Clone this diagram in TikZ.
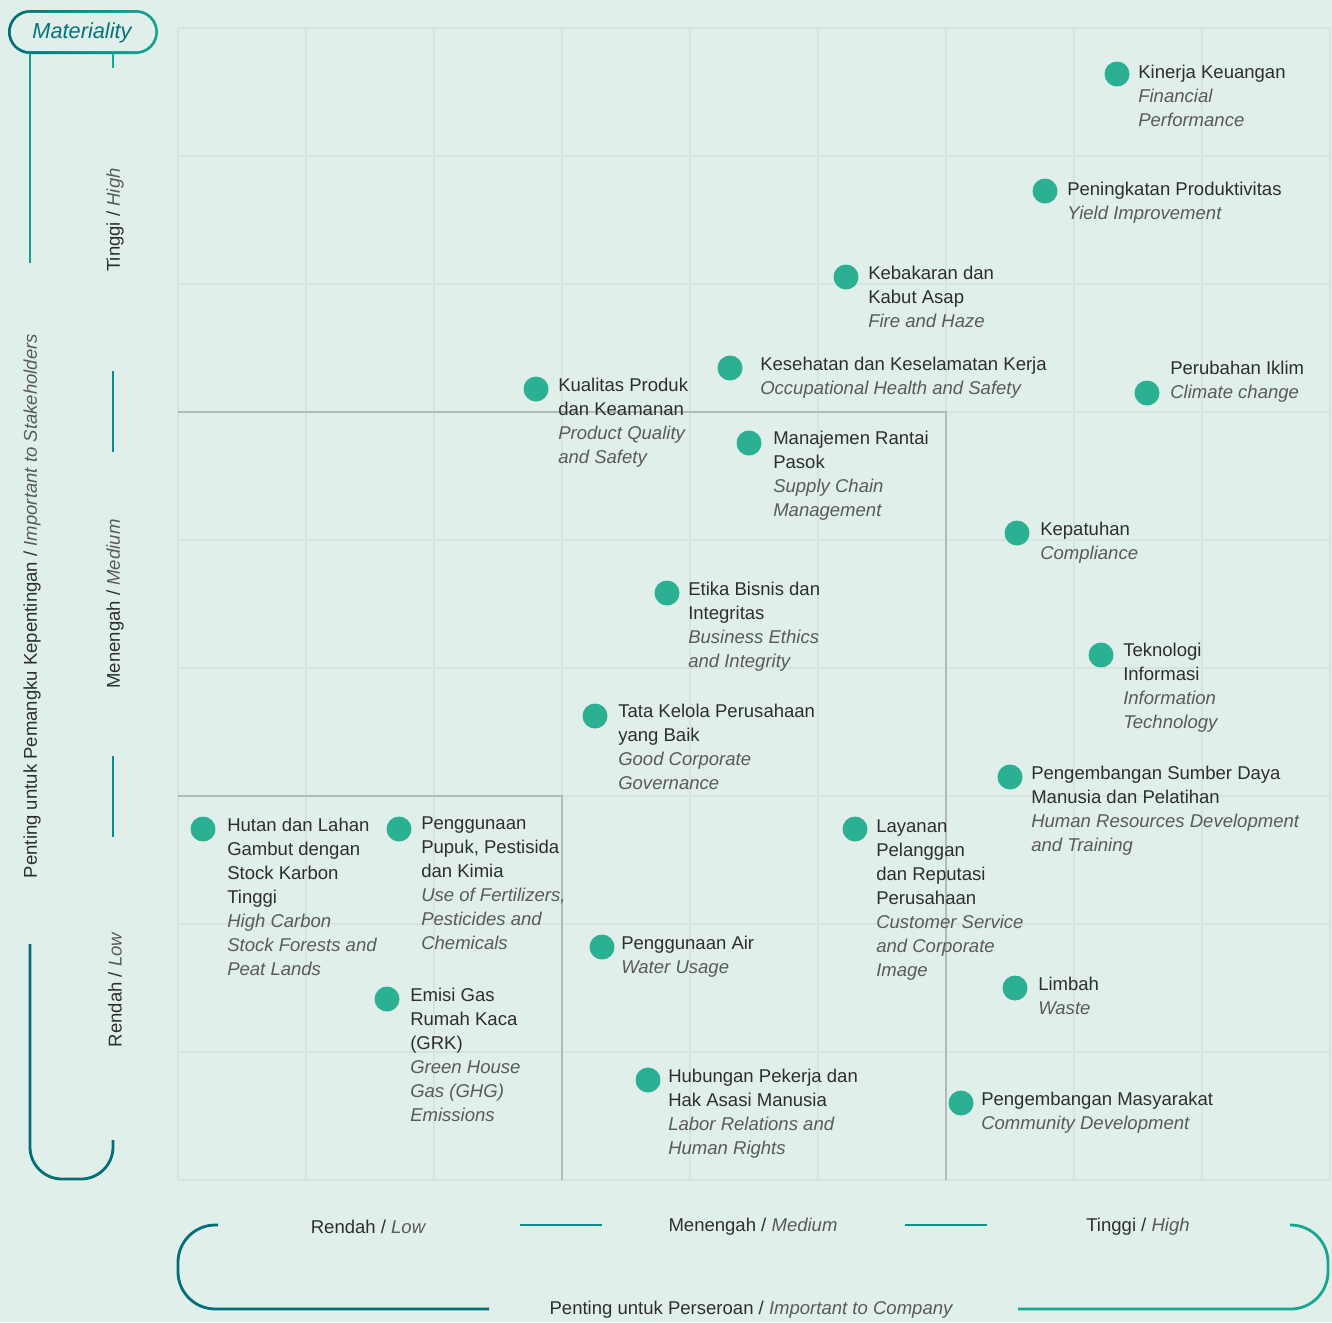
\documentclass[tikz,border=0pt]{standalone}
\usepackage{fontspec}
\setmainfont{Liberation Sans}
\definecolor{bg}{HTML}{E0EFEA}
\definecolor{gridc}{HTML}{D6E3DF}
\definecolor{quadc}{HTML}{B3BAB8}
\definecolor{dotc}{HTML}{2BB093}
\definecolor{txt}{HTML}{2E2E2E}
\definecolor{engc}{HTML}{5A5A5A}
\definecolor{tdark}{HTML}{036E77}
\definecolor{tmid}{HTML}{0B8C8A}
\definecolor{tlight}{HTML}{16A793}
\newcommand\engl[1]{{\itshape\color{engc}#1}}
\begin{document}
\begin{tikzpicture}[x=0.75pt,y=-0.75pt,
  dot/.style={circle,fill=dotc,minimum size=18.75pt,inner sep=0pt},
  lbl/.style={anchor=north west,inner sep=0pt,align=left,text=txt,font=\fontsize{13.9}{18}\selectfont},
  axl/.style={inner sep=0pt,text=txt,font=\fontsize{13.9}{18}\selectfont},
  gridline/.style={draw=gridc,line width=0.8pt},
  quadline/.style={draw=quadc,line width=1.1pt},
  bracket/.style={line width=2.1pt,line cap=butt}
]
\fill[bg] (0,0) rectangle (1332,1322);
\useasboundingbox (0,0) rectangle (1332,1322);
% grid
\foreach \gx in {178,306,434,562,690,818,946,1074,1202,1330}
  \draw[gridline] (\gx,28) -- (\gx,1180);
\foreach \gy in {28,156,284,412,540,668,796,924,1052,1180}
  \draw[gridline] (178,\gy) -- (1330,\gy);
% quadrant lines
\draw[quadline] (178,412) -- (946,412) -- (946,1180);
\draw[quadline] (178,796) -- (562,796) -- (562,1180);
% Materiality box
\shade[left color=tdark,right color=tlight,rounded corners=16.5pt] (8,10) rectangle (158,54);
\fill[bg,rounded corners=14.5pt] (10.8,12.8) rectangle (155.2,51.2);
\node[inner sep=0pt,text=tdark!90!tlight,font=\fontsize{16.3}{18}\selectfont\itshape] (mat) at (82,33) {Materiality};
% left brackets
\draw[bracket,tlight!85!tdark] (30,53) -- (30,263);
\draw[bracket,tlight] (113,53) -- (113,68);
\draw[bracket,tmid] (113,371) -- (113,452);
\draw[bracket,tmid] (113,756) -- (113,837);
\draw[bracket,tdark,rounded corners=24pt] (30,944) -- (30,1179) -- (113,1179) -- (113,1140);
% bottom brackets
\draw[bracket,tdark,rounded corners=28pt] (218,1225) -- (178,1225) -- (178,1309) -- (489,1309);
\draw[bracket,tmid] (520,1225) -- (602,1225);
\draw[bracket,tmid!70!tlight] (905,1225) -- (987,1225);
\draw[bracket,tlight,rounded corners=28pt] (1018,1309) -- (1328,1309) -- (1328,1225) -- (1290,1225);
% axis labels
\node[axl,rotate=90] (yhigh) at (115,220) {Tinggi / \engl{High}};
\node[axl,rotate=90] (ymed) at (115,604) {Menengah / \engl{Medium}};
\node[axl,rotate=90] (ylow) at (115,990) {Rendah / \engl{Low}};
\node[axl,rotate=90] (ytitle) at (32,606) {Penting untuk Pemangku Kepentingan / \engl{Important to Stakeholders}};
\node[axl] (xlow) at (368,1227) {Rendah / \engl{Low}};
\node[axl] (xmed) at (753,1227) {Menengah / \engl{Medium}};
\node[axl] (xhigh) at (1138,1227) {Tinggi / \engl{High}};
\node[axl] (xtitle) at (751,1310) {Penting untuk Perseroan / \engl{Important to Company}};
% items
\node[dot] (d1) at (1117,74) {};
\node[lbl] (t1) at (1138,65) {Kinerja Keuangan\\\engl{Financial}\\\engl{Performance}};
\node[dot] (d2) at (1045,191) {};
\node[lbl] (t2) at (1067,182) {Peningkatan Produktivitas\\\engl{Yield Improvement}};
\node[dot] (d3) at (846,277) {};
\node[lbl] (t3) at (868,266) {Kebakaran dan\\Kabut Asap\\\engl{Fire and Haze}};
\node[dot] (d4) at (730,368) {};
\node[lbl] (t4) at (760,357) {Kesehatan dan Keselamatan Kerja\\\engl{Occupational Health and Safety}};
\node[dot] (d5) at (1147,393) {};
\node[lbl] (t5) at (1170,361) {Perubahan Iklim\\\engl{Climate change}};
\node[dot] (d6) at (536,389) {};
\node[lbl] (t6) at (558,378) {Kualitas Produk\\dan Keamanan\\\engl{Product Quality}\\\engl{and Safety}};
\node[dot] (d7) at (749,443) {};
\node[lbl] (t7) at (773,431) {Manajemen Rantai\\Pasok\\\engl{Supply Chain}\\\engl{Management}};
\node[dot] (d8) at (1017,533) {};
\node[lbl] (t8) at (1040,522) {Kepatuhan\\\engl{Compliance}};
\node[dot] (d9) at (667,593) {};
\node[lbl] (t9) at (688,582) {Etika Bisnis dan\\Integritas\\\engl{Business Ethics}\\\engl{and Integrity}};
\node[dot] (d10) at (1101,655) {};
\node[lbl] (t10) at (1123,643) {Teknologi\\Informasi\\\engl{Information}\\\engl{Technology}};
\node[dot] (d11) at (595,716) {};
\node[lbl] (t11) at (618,704) {Tata Kelola Perusahaan\\yang Baik\\\engl{Good Corporate}\\\engl{Governance}};
\node[dot] (d12) at (1010,777) {};
\node[lbl] (t12) at (1031,766) {Pengembangan Sumber Daya\\Manusia dan Pelatihan\\\engl{Human Resources Development}\\\engl{and Training}};
\node[dot] (d13) at (203,829) {};
\node[lbl] (t13) at (227,818) {Hutan dan Lahan\\Gambut dengan\\Stock Karbon\\Tinggi\\\engl{High Carbon}\\\engl{Stock Forests and}\\\engl{Peat Lands}};
\node[dot] (d14) at (399,829) {};
\node[lbl] (t14) at (421,816) {Penggunaan\\Pupuk, Pestisida\\dan Kimia\\\engl{Use of Fertilizers,}\\\engl{Pesticides and}\\\engl{Chemicals}};
\node[dot] (d15) at (855,829) {};
\node[lbl] (t15) at (876,819) {Layanan\\Pelanggan\\dan Reputasi\\Perusahaan\\\engl{Customer Service}\\\engl{and Corporate}\\\engl{Image}};
\node[dot] (d16) at (602,947) {};
\node[lbl] (t16) at (621,936) {Penggunaan Air\\\engl{Water Usage}};
\node[dot] (d17) at (387,999) {};
\node[lbl] (t17) at (410,988) {Emisi Gas\\Rumah Kaca\\(GRK)\\\engl{Green House}\\\engl{Gas (GHG)}\\\engl{Emissions}};
\node[dot] (d18) at (1015,988) {};
\node[lbl] (t18) at (1038,977) {Limbah\\\engl{Waste}};
\node[dot] (d19) at (648,1080) {};
\node[lbl] (t19) at (668,1069) {Hubungan Pekerja dan\\Hak Asasi Manusia\\\engl{Labor Relations and}\\\engl{Human Rights}};
\node[dot] (d20) at (961,1103) {};
\node[lbl] (t20) at (981,1092) {Pengembangan Masyarakat\\\engl{Community Development}};
\end{tikzpicture}
\end{document}
